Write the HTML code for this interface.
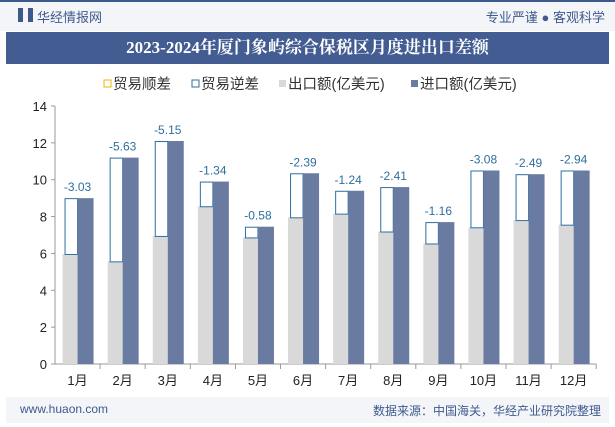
<!DOCTYPE html>
<html><head><meta charset="utf-8"><style>
body{margin:0;width:615px;height:427px;background:#fff;font-family:"Liberation Sans","Noto Sans CJK SC",sans-serif;overflow:hidden;position:relative}
.top{position:absolute;left:0;top:0;width:615px;height:31px;background:#f4f5f9;border-top:2px solid #3d5a8c;box-sizing:border-box}
</style></head><body>
<div class="top">
<span style="position:absolute;left:18px;top:6px;width:5px;height:14px;background:#3d5a8c"></span>
<span style="position:absolute;left:28px;top:6px;width:5px;height:14px;background:#3d5a8c"></span>
<span style="position:absolute;left:37px;top:5px;font-size:13px;color:#3d5a8c">华经情报网</span>
<span style="position:absolute;right:10px;top:5px;font-size:13px;color:#3d5a8c">专业严谨 ● 客观科学</span>
</div>
<div style="position:absolute;left:6px;top:32px;width:603px;height:32px;background:#435c92;color:#fff;font-size:17px;font-weight:bold;text-align:center;line-height:32px;font-family:'Liberation Serif','Noto Serif CJK SC',serif">2023-2024年厦门象屿综合保税区月度进出口差额</div>
<div style="position:absolute;left:6px;top:397px;width:603px;height:26px;background:#f4f5f9">
<span style="position:absolute;left:14px;top:5px;font-size:12px;color:#3d5a8c">www.huaon.com</span>
<span style="position:absolute;right:8px;top:5px;font-size:12px;color:#3d5a8c">数据来源：中国海关，华经产业研究院整理</span>
</div>
<svg id="c" width="615" height="427" style="position:absolute;left:0;top:0;pointer-events:none">
<g font-size="14.5" fill="#333">
<rect x="104" y="80" width="7" height="7" fill="none" stroke="#f0b400"/>
<text x="113" y="89">贸易顺差</text>
<rect x="192" y="80" width="7" height="7" fill="none" stroke="#2e6f9e"/>
<text x="201" y="89">贸易逆差</text>
<rect x="279" y="80" width="7" height="7" fill="#d9d9d9"/>
<text x="288" y="89">出口额(亿美元)</text>
<rect x="411" y="80" width="7" height="7" fill="#6a7ba2"/>
<text x="420" y="89">进口额(亿美元)</text>
</g>
<g id="g"></g>
</svg>
<script>
const months=["1月","2月","3月","4月","5月","6月","7月","8月","9月","10月","11月","12月"];
const importVals=[9.0,11.2,12.1,9.9,7.45,10.35,9.4,9.6,7.7,10.5,10.3,10.5];
const exportVals=[5.97,5.57,6.95,8.56,6.87,7.96,8.16,7.19,6.54,7.42,7.81,7.56];
const deficitLabels=["-3.03","-5.63","-5.15","-1.34","-0.58","-2.39","-1.24","-2.41","-1.16","-3.08","-2.49","-2.94"];
const yTicks=[0,2,4,6,8,10,12,14];
const X0=55,BAND=45.1,Y0=364,K=(364-106)/14;
const y=v=>Y0-v*K, xc=i=>X0+BAND*(i+0.5);
const g=document.getElementById('g'),NS='http://www.w3.org/2000/svg';
function mk(t,a,txt){const e=document.createElementNS(NS,t);for(const k in a)e.setAttribute(k,a[k]);if(txt!==undefined)e.textContent=txt;g.appendChild(e);return e;}
let e=mk('line',{x1:X0,y1:106,x2:X0,y2:Y0,stroke:'#999'});


e=mk('line',{x1:X0,y1:Y0,x2:X0+BAND*12,y2:Y0,stroke:'#999'});


yTicks.forEach(v=>{
 e=mk('line',{x1:X0-4,y1:y(v),x2:X0,y2:y(v),stroke:'#999'});
 
 
 e=mk('text',{x:X0-8,y:y(v)+5,'text-anchor':'end','font-size':13,fill:'#222'},String(v));
 
 
});
months.forEach((m,i)=>{
 const c=xc(i);
 e=mk('line',{x1:X0+BAND*(i+1),y1:Y0,x2:X0+BAND*(i+1),y2:Y0+5,stroke:'#999'});
 
 
 e=mk('rect',{x:c-15,y:y(exportVals[i]),width:15,height:Y0-y(exportVals[i]),fill:'#d9d9d9'});
 
 
 e=mk('rect',{x:c-12.5,y:y(importVals[i])+0.5,width:12.5,height:y(exportVals[i])-y(importVals[i]),fill:'#fff',stroke:'#2e6f9e','stroke-width':1});
 
 
 e=mk('rect',{x:c,y:y(importVals[i]),width:16,height:Y0-y(importVals[i]),fill:'#6a7ba2'});
 
 
 e=mk('text',{x:c,y:y(importVals[i])-7,'text-anchor':'middle','font-size':12,fill:'#2e6f9e'},deficitLabels[i]);
 
 
 e=mk('text',{x:c,y:Y0+21,'text-anchor':'middle','font-size':13,fill:'#222'},m);
 
 
});
</script>
</body></html>
